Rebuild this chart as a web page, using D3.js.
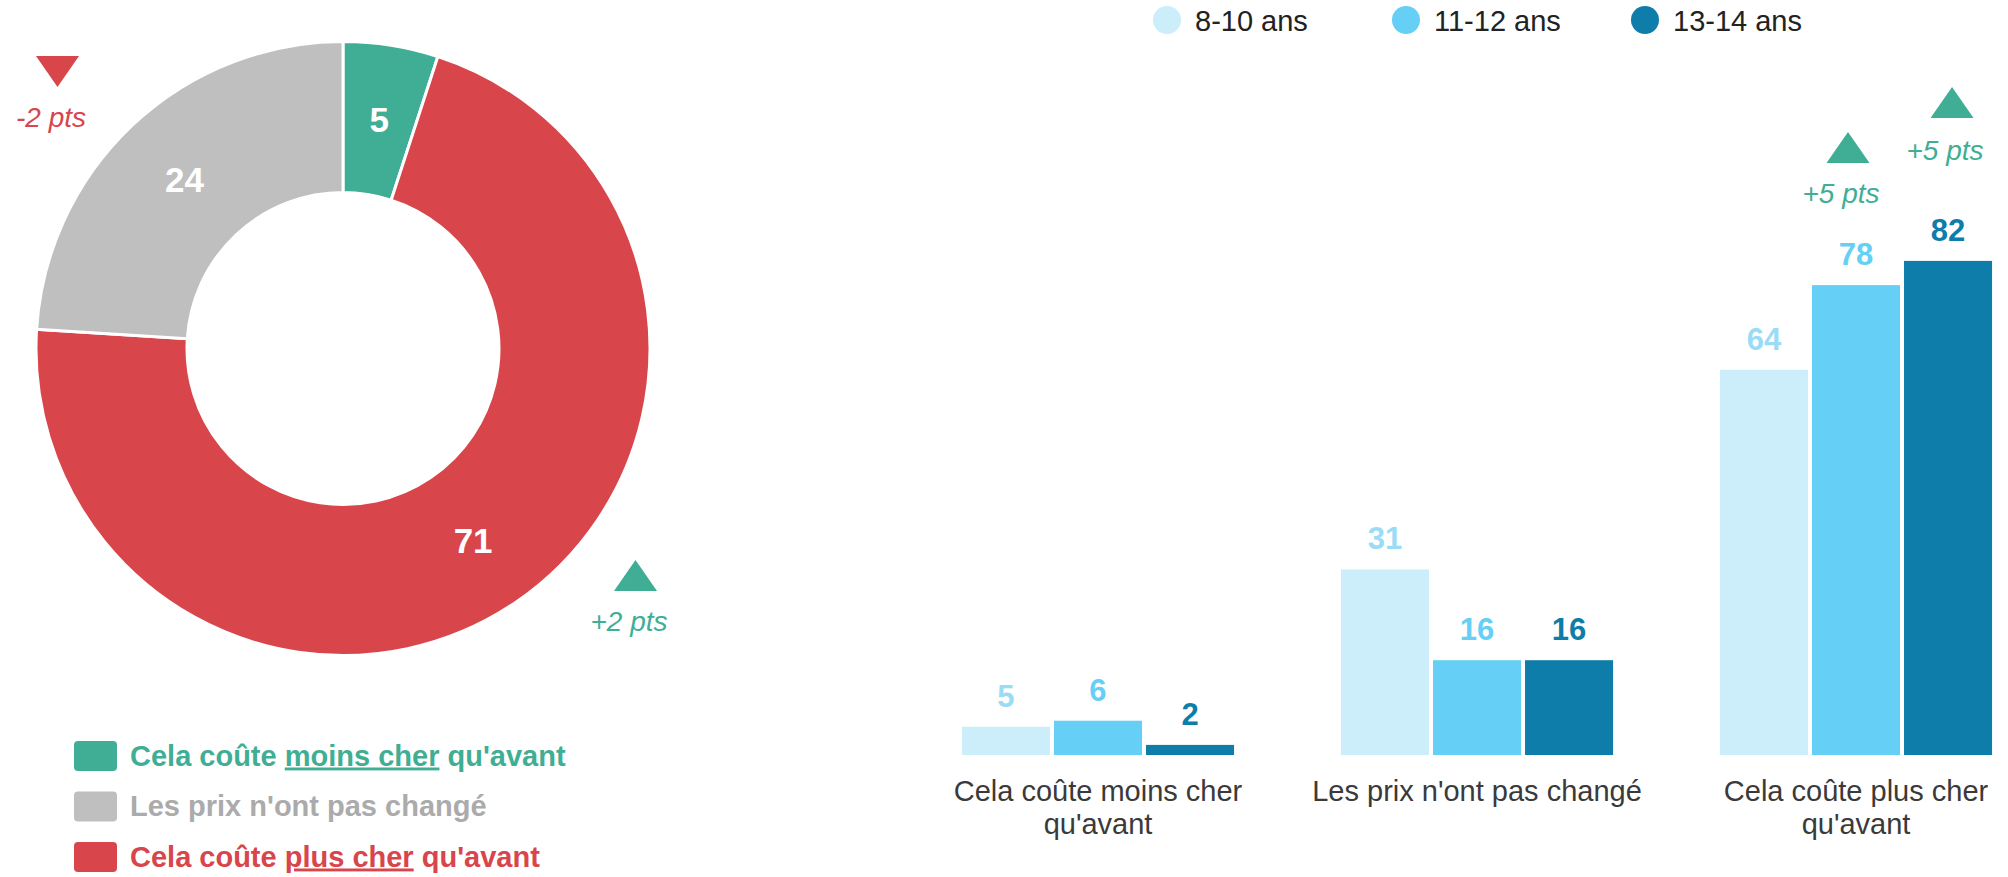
<!DOCTYPE html>
<html><head><meta charset="utf-8">
<script src="https://cdn.jsdelivr.net/npm/d3@7"></script>
<style>html,body{margin:0;padding:0;background:#fff;} svg{display:block;font-family:"Liberation Sans",Arial,Helvetica,sans-serif;}</style>
</head><body><svg id="c" width="2008" height="877"></svg>
<script>
// ---------- DATA ----------
// Donut (overall)
const donutCategories = ["moins", "pas", "plus"];
const donutValues = [5, 24, 71];
const donutPieOrder = ["moins", "plus", "pas"]; // clockwise from 12 o'clock
const donutColors = ["#3FAE94", "#BFBFBF", "#D8454B"];
const donutLegendTextColors = ["#3FAE94", "#ABABAB", "#D8454B"];
const donutLegendParts = [
  ["Cela coûte ", "moins cher", " qu'avant"],
  ["Les prix n'ont pas changé", "", ""],
  ["Cela coûte ", "plus cher", " qu'avant"]
];
const donutDeltaCats = ["pas", "plus"];
const donutDeltaTexts = ["-2 pts", "+2 pts"];
const donutDeltaDirs = ["down", "up"];

// Grouped bars (by age)
const barCategories = ["Cela coûte moins cher qu'avant", "Les prix n'ont pas changé", "Cela coûte plus cher qu'avant"];
const ageGroups = ["8-10 ans", "11-12 ans", "13-14 ans"];
const values8to10 = [5, 31, 64];
const values11to12 = [6, 16, 78];
const values13to14 = [2, 16, 82];
const barColors = ["#CCEEFA", "#66CFF5", "#0E7DA9"];
const barLabelColors = ["#9ADCF6", "#66CFF5", "#0E7DA9"];
const barDeltaCats = [2, 2];
const barDeltaSeries = [1, 2];
const barDeltaTexts = ["+5 pts", "+5 pts"];

const GREEN = "#3FAE94", RED = "#D8454B";

// ---------- DRAW ----------
const svg = d3.select("#c");

function triangle(g, cx, topY, dir, color) {
  const w = 43, h = 31;
  const p = dir === "up"
    ? [[cx - w/2, topY + h], [cx + w/2, topY + h], [cx, topY]]
    : [[cx - w/2, topY], [cx + w/2, topY], [cx, topY + h]];
  g.append("path").attr("d", d3.line()(p) + "Z").attr("fill", color);
}

// Donut
const cx = 343, cy = 348.5, R = 307, r = 156;
const donutData = donutPieOrder.map(k => ({key: k, value: donutValues[donutCategories.indexOf(k)]}));
const pie = d3.pie().sort(null).value(d => d.value);
const arc = d3.arc().innerRadius(r).outerRadius(R);
const labelArc = d3.arc().innerRadius((R + r) / 2).outerRadius((R + r) / 2);
const colorOf = d3.scaleOrdinal().domain(donutCategories).range(donutColors);
const dg = svg.append("g").attr("transform", `translate(${cx},${cy})`);
const arcs = pie(donutData);
dg.selectAll("path.slice").data(arcs).join("path")
  .attr("class", "slice")
  .attr("d", arc)
  .attr("fill", d => colorOf(d.data.key))
  .attr("stroke", "#fff").attr("stroke-width", 3);
dg.selectAll("text.val").data(arcs).join("text")
  .attr("class", "val")
  .attr("transform", d => `translate(${labelArc.centroid(d)})`)
  .attr("text-anchor", "middle").attr("dy", "0.36em")
  .attr("font-size", 35).attr("font-weight", "bold").attr("fill", "#fff")
  .text(d => d.value);

// Donut delta annotations
const donutDeltaPos = [[57.5, 56], [635.5, 560]];
donutDeltaCats.forEach((k, i) => {
  const g = svg.append("g");
  const col = donutDeltaDirs[i] === "up" ? GREEN : RED;
  const [x, y] = donutDeltaPos[i];
  triangle(g, x, y, donutDeltaDirs[i], col);
  g.append("text").attr("x", x - 6.5).attr("y", y + 71)
    .attr("text-anchor", "middle").attr("font-size", 28).attr("font-style", "italic")
    .attr("fill", col).text(donutDeltaTexts[i]);
});

// Donut legend
const lg = svg.append("g");
donutCategories.forEach((k, i) => {
  const top = 741 + i * 50.5;
  lg.append("rect").attr("x", 74).attr("y", top).attr("width", 43).attr("height", 30)
    .attr("rx", 4).attr("fill", donutColors[i]);
  const t = lg.append("text").attr("x", 130).attr("y", top + 24.5)
    .attr("font-size", 29).attr("font-weight", "bold").attr("fill", donutLegendTextColors[i]);
  donutLegendParts[i].forEach((p, j) => {
    if (!p) return;
    const ts = t.append("tspan").text(p);
    if (j === 1) ts.attr("text-decoration", "underline");
  });
});

// Bar chart
const x0 = d3.scaleBand().domain(barCategories).range([908.5, 2045.5]).paddingInner(0.282).paddingOuter(0.141);
const x1 = d3.scaleBand().domain(ageGroups).range([0, x0.bandwidth()]).paddingInner(0.0435);
const y = d3.scaleLinear().domain([0, 100]).range([757, 152]);
const seriesValues = [values8to10, values11to12, values13to14];

const bg = svg.append("g");
const groups = bg.selectAll("g.grp").data(barCategories).join("g")
  .attr("class", "grp").attr("transform", d => `translate(${x0(d)},0)`);
groups.each(function(cat, ci) {
  const g = d3.select(this);
  const rows = ageGroups.map((a, si) => ({a, si, v: seriesValues[si][ci]}));
  g.selectAll("rect").data(rows).join("rect")
    .attr("x", d => x1(d.a)).attr("width", x1.bandwidth())
    .attr("y", d => y(d.v)).attr("height", d => y(0) - y(d.v) - 2)
    .attr("fill", d => barColors[d.si]);
  g.selectAll("text").data(rows).join("text")
    .attr("x", d => x1(d.a) + x1.bandwidth() / 2).attr("y", d => y(d.v) - 20)
    .attr("text-anchor", "middle").attr("font-size", 31).attr("font-weight", "bold")
    .attr("fill", d => barLabelColors[d.si]).text(d => d.v);
});

// x axis
const axis = svg.append("g").attr("transform", `translate(0,${y(0)})`)
  .call(d3.axisBottom(x0).tickSize(0).tickPadding(23.5));
axis.select(".domain").remove();
axis.selectAll("text").attr("font-size", 29).attr("fill", "#3A3A3A")
  .attr("font-family", '"Liberation Sans",Arial,sans-serif')
  .each(function() {
    const t = d3.select(this);
    const words = t.text().split(" ");
    t.text(null);
    const maxW = 360;
    let line = [];
    let ts = t.append("tspan").attr("x", 0).attr("dy", "0.71em");
    words.forEach(w => {
      line.push(w);
      ts.text(line.join(" "));
      if (ts.node().getComputedTextLength() > maxW && line.length > 1) {
        line.pop(); ts.text(line.join(" "));
        line = [w];
        ts = t.append("tspan").attr("x", 0).attr("dy", 33).text(w);
      }
    });
  });

// bar delta annotations
const barDeltaLayout = [[-8, 132, 203], [4, 87, 160]]; // dx, triangle top, text baseline
barDeltaCats.forEach((ci, i) => {
  const si = barDeltaSeries[i];
  const xc = x0(barCategories[ci]) + x1(ageGroups[si]) + x1.bandwidth() / 2 + barDeltaLayout[i][0];
  const g = svg.append("g");
  triangle(g, xc, barDeltaLayout[i][1], "up", GREEN);
  g.append("text").attr("x", xc - 7).attr("y", barDeltaLayout[i][2])
    .attr("text-anchor", "middle").attr("font-size", 28).attr("font-style", "italic")
    .attr("fill", GREEN).text(barDeltaTexts[i]);
});

// top legend
const legX = d3.scalePoint().domain(ageGroups).range([1167, 1645]);
const tl = svg.append("g");
ageGroups.forEach((a, i) => {
  tl.append("circle").attr("cx", legX(a)).attr("cy", 20).attr("r", 14).attr("fill", barColors[i]);
  tl.append("text").attr("x", legX(a) + 28).attr("y", 31).attr("font-size", 29)
    .attr("fill", "#222").text(a);
});
</script>
</body></html>
